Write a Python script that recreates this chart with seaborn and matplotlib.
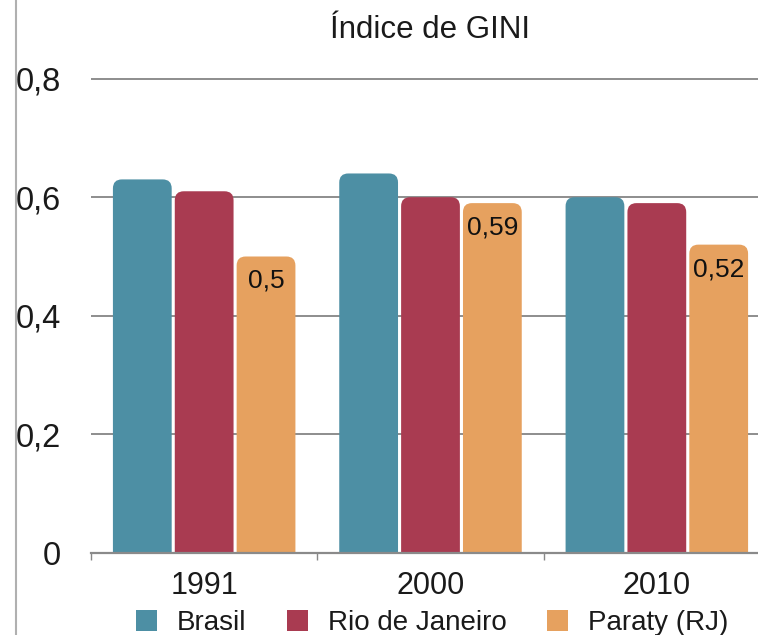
import matplotlib
matplotlib.use("Agg")
import matplotlib.pyplot as plt
import seaborn as sns
import pandas as pd
from matplotlib.patches import FancyBboxPatch, Patch
from matplotlib.lines import Line2D
from matplotlib.ticker import FuncFormatter

# Dados do índice de Gini
anos = ["1991", "2000", "2010"]
locais = ["Brasil", "Rio de Janeiro", "Paraty (RJ)"]
brasil = [0.63, 0.64, 0.60]
rio_de_janeiro = [0.61, 0.60, 0.59]
paraty = [0.50, 0.59, 0.52]
y_ticks = [0, 0.2, 0.4, 0.6, 0.8]

cores = ["#4d8fa4", "#a93b51", "#e6a15f"]

series = {"Brasil": brasil, "Rio de Janeiro": rio_de_janeiro, "Paraty (RJ)": paraty}
df = pd.DataFrame(
    [(ano, local, series[local][i]) for local in locais for i, ano in enumerate(anos)],
    columns=["ano", "local", "gini"],
)

sns.set_theme(style="white")
plt.rcParams["font.family"] = ["Liberation Sans", "DejaVu Sans"]

W, H = 758, 635
fig = plt.figure(figsize=(W / 100, H / 100), dpi=100)
ax_left, ax_right, ax_bottom, ax_top = 91, 770, 82, 557
ax = fig.add_axes([ax_left / W, ax_bottom / H, (ax_right - ax_left) / W, (ax_top - ax_bottom) / H])

sns.barplot(
    data=df, x="ano", y="gini", hue="local", order=anos, hue_order=locais,
    palette=cores, saturation=1, width=0.82, gap=0.05, legend=False, ax=ax,
)

ax.set_xlim(-0.5, 2.5)
ax.set_ylim(0, 0.801)

# Cantos superiores arredondados nas barras
px_x = (ax_right - ax_left) / 3.0
px_y = (ax_top - ax_bottom) / 0.801
aspect = px_x / px_y
radius = 9 / px_x
for cont in ax.containers:
    for bar in cont:
        x, w, h = bar.get_x(), bar.get_width(), bar.get_height()
        fc = bar.get_facecolor()
        bar.set_visible(False)
        ax.add_patch(FancyBboxPatch(
            (x, -0.03), w, h + 0.03,
            boxstyle=f"round,pad=0,rounding_size={radius}",
            mutation_aspect=aspect, facecolor=fc, edgecolor="none", zorder=2,
        ))

# Rótulos de valor nas barras de Paraty
for bar, v in zip(ax.containers[2], paraty):
    cx = bar.get_x() + bar.get_width() / 2
    ax.annotate(f"{v:g}".replace(".", ","), (cx, v), xytext=(0, -9),
                textcoords="offset points", ha="center", va="top",
                fontsize=19, color="#111111", zorder=3)

ax.set_yticks(y_ticks)
ax.yaxis.set_major_formatter(FuncFormatter(lambda v, _: f"{v:g}".replace(".", ",")))
ax.yaxis.grid(True, color="#7a7a7a", linewidth=1.2)
ax.xaxis.grid(False)
ax.set_axisbelow(True)

for s in ["left", "top", "right"]:
    ax.spines[s].set_visible(False)
ax.spines["bottom"].set_color("#8a8a8a")
ax.spines["bottom"].set_linewidth(1.6)
ax.spines["bottom"].set_zorder(4)

ax.set_xticks([-0.5, 0.5, 1.5, 2.5], minor=True)
ax.tick_params(axis="x", which="major", length=0, pad=13, labelsize=22, labelcolor="#1a1a1a")
ax.tick_params(axis="x", which="minor", bottom=True, length=5, width=1, color="#888888", direction="out")
ax.tick_params(axis="y", length=0, pad=21.5, labelsize=23.5, labelcolor="#1a1a1a")
ax.set_xlabel("")
ax.set_ylabel("")

fig.text((ax_left + ax_right) / 2 / W, 1 - 30 / H, "Índice de GINI",
         ha="center", va="center", fontsize=22.5, color="#1a1a1a")

fig.add_artist(Line2D([16 / W, 16 / W], [0, 1], transform=fig.transFigure,
                      color="#b0b0b0", linewidth=1.5))

handles = [Patch(facecolor=c, edgecolor="none") for c in cores]
fig.legend(handles, locais, loc="center", bbox_to_anchor=(432 / W, 12 / H), ncol=3,
           frameon=False, fontsize=20, handlelength=0.78, handleheight=0.78,
           handletextpad=0.7, columnspacing=1.45, borderaxespad=0, borderpad=0,
           labelcolor="#1a1a1a")

fig.savefig("out.png", dpi=100, facecolor="white")
